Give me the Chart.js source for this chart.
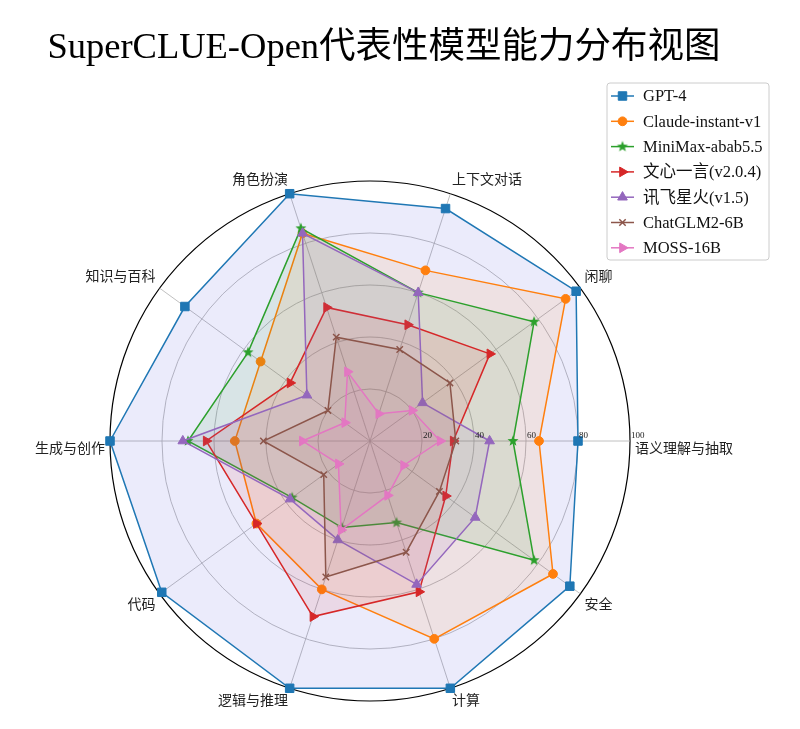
<!DOCTYPE html>
<html>
<head>
<meta charset="utf-8">
<script src="https://cdn.jsdelivr.net/npm/chart.js@4.4.1/dist/chart.umd.min.js"></script>
<style>
  html, body { margin: 0; padding: 0; background: #ffffff; }
  #wrap { width: 800px; height: 729px; position: relative; background: #ffffff; }
  canvas { display: block; }
</style>
</head>
<body>
<div id="wrap"><canvas id="c" width="800" height="729"></canvas></div>
<script>
// ---------- data ----------
const TITLE = 'SuperCLUE-Open代表性模型能力分布视图';
const categories = ['语义理解与抽取', '闲聊', '上下文对话', '角色扮演', '知识与百科',
                    '生成与创作', '代码', '逻辑与推理', '计算', '安全'];
const seriesNames = ['GPT-4', 'Claude-instant-v1', 'MiniMax-abab5.5', '文心一言(v2.0.4)',
                     '讯飞星火(v1.5)', 'ChatGLM2-6B', 'MOSS-16B'];
const gpt4    = [80, 98, 94, 100, 88, 100, 99, 100, 100, 95];
const claude  = [65, 93, 69, 84, 52, 52, 54, 60, 80, 87];
const minimax = [55, 78, 60, 86, 58, 70, 37, 35, 33, 78];
const wenxin  = [32, 57, 47, 54, 38, 63, 54, 71, 61, 36];
const xunfei  = [46, 25, 60, 84, 30, 72, 38, 40, 58, 50];
const chatglm = [33, 38, 37, 42, 20, 41, 22, 55, 45, 33];
const moss    = [27, 20, 11, 28, 12, 26, 15, 36, 22, 16];
const tickValues = [20, 40, 60, 80, 100];

// ---------- styles ----------
const SERIF = '"Liberation Serif", "Times New Roman", "Noto Sans CJK SC", serif';
const lineColors = ['#1f77b4', '#ff7f0e', '#2ca02c', '#d62728', '#9467bd', '#8c564b', '#e377c2'];
const fillColors = ['rgba(0,0,200,0.08)', 'rgba(255,127,14,0.10)', 'rgba(44,160,44,0.10)',
                    'rgba(214,39,40,0.10)', 'rgba(148,103,189,0.10)', 'rgba(140,86,75,0.10)',
                    'rgba(227,119,194,0.10)'];

function makeStar(color, r) {
  const s = Math.ceil(r * 2 + 2);
  const cv = document.createElement('canvas');
  cv.width = s; cv.height = s;
  const g = cv.getContext('2d');
  g.fillStyle = color;
  g.beginPath();
  for (let k = 0; k < 10; k++) {
    const rr = k % 2 === 0 ? r : r * 0.42;
    const a = -Math.PI / 2 + k * Math.PI / 5;
    const px = s / 2 + rr * Math.cos(a), py = s / 2 + rr * Math.sin(a);
    if (k === 0) g.moveTo(px, py); else g.lineTo(px, py);
  }
  g.closePath();
  g.fill();
  return cv;
}

const markerStyles = ['rect', 'circle', makeStar('#2ca02c', 5.8), 'triangle', 'triangle', 'crossRot', 'triangle'];
const markerRotations = [0, 0, 0, 90, 0, 0, 90];
const markerRadii = [6, 4.4, 5.5, 5.6, 5.6, 4.5, 5.6];
const markerBorderWidths = [1, 1, 1, 1, 1, 1.5, 1];

// Chart.js radar runs clockwise; the reference runs counter-clockwise from the east.
const n = categories.length;
const displayOrder = categories.map((_, i) => (n - i) % n);
const seriesValues = [gpt4, claude, minimax, wenxin, xunfei, chatglm, moss];
// labels on the horizontal axis sit a little below it (as in the reference)
const displayLabels = displayOrder.map((ci, i) =>
  ((i * 360 / n) % 180 === 0) ? ['', categories[ci]] : categories[ci]);

const datasets = seriesValues.map((vals, k) => ({
  label: seriesNames[k],
  data: displayOrder.map(i => vals[i]),
  borderColor: lineColors[k],
  backgroundColor: fillColors[k],
  borderWidth: 1.5,
  fill: true,
  pointStyle: markerStyles[k],
  pointRotation: markerRotations[k],
  pointRadius: markerRadii[k],
  pointHoverRadius: markerRadii[k],
  pointBackgroundColor: lineColors[k],
  pointBorderColor: lineColors[k],
  pointBorderWidth: markerBorderWidths[k],
  order: seriesValues.length - k
}));

// ---------- plugins ----------
const rTickLabels = {
  id: 'rTickLabels',
  afterDatasetsDraw(chart) {
    const s = chart.scales.r, c = chart.ctx;
    c.save();
    c.font = '9px ' + SERIF;
    c.fillStyle = '#222';
    c.textAlign = 'left';
    c.textBaseline = 'middle';
    tickValues.forEach(v => {
      const d = s.getDistanceFromCenterForValue(v);
      c.fillText(String(v), s.xCenter + d + 1, s.yCenter - 5);
    });
    c.restore();
  }
};

const cornerLegend = {
  id: 'cornerLegend',
  afterDraw(chart) {
    const c = chart.ctx;
    const bx = 607, by = 83, bw = 162, bh = 177, rad = 3;
    c.save();
    c.beginPath();
    c.moveTo(bx + rad, by);
    c.lineTo(bx + bw - rad, by); c.quadraticCurveTo(bx + bw, by, bx + bw, by + rad);
    c.lineTo(bx + bw, by + bh - rad); c.quadraticCurveTo(bx + bw, by + bh, bx + bw - rad, by + bh);
    c.lineTo(bx + rad, by + bh); c.quadraticCurveTo(bx, by + bh, bx, by + bh - rad);
    c.lineTo(bx, by + rad); c.quadraticCurveTo(bx, by, bx + rad, by);
    c.closePath();
    c.fillStyle = 'rgba(255,255,255,0.85)';
    c.fill();
    c.strokeStyle = '#cccccc';
    c.lineWidth = 1;
    c.stroke();
    chart.data.datasets.forEach((ds, i) => {
      const y = by + 13 + i * 25.3;
      c.strokeStyle = ds.borderColor;
      c.lineWidth = 1.5;
      c.beginPath();
      c.moveTo(bx + 4, y);
      c.lineTo(bx + 27, y);
      c.stroke();
      c.fillStyle = ds.pointBackgroundColor;
      c.strokeStyle = ds.pointBorderColor;
      c.lineWidth = ds.pointBorderWidth;
      Chart.helpers.drawPoint(c, {
        pointStyle: ds.pointStyle, rotation: ds.pointRotation,
        radius: ds.pointRadius, borderWidth: ds.pointBorderWidth
      }, bx + 15.5, y);
      c.fillStyle = '#111';
      c.font = '16.5px ' + SERIF;
      c.textAlign = 'left';
      c.textBaseline = 'middle';
      c.fillText(ds.label, bx + 36, y + 1);
    });
    c.restore();
  }
};

// ---------- chart ----------
Chart.defaults.font.family = SERIF;
new Chart(document.getElementById('c'), {
  type: 'radar',
  data: { labels: displayLabels, datasets },
  options: {
    responsive: false,
    animation: false,
    layout: { padding: { left: 21, right: 53, top: 0, bottom: 0 } },
    elements: { line: { tension: 0 } },
    plugins: {
      legend: { display: false },
      tooltip: { enabled: false },
      title: {
        display: true,
        text: TITLE,
        color: '#000',
        font: { family: SERIF, size: 36.5, weight: 'normal', lineHeight: 1.2 },
        padding: { top: 27, bottom: 82.2 }
      }
    },
    scales: {
      r: {
        min: 0,
        max: 100,
        startAngle: 90,
        ticks: { display: false, stepSize: 20 },
        grid: {
          circular: true,
          color: ctx => (ctx.tick && ctx.tick.value === 100) ? '#000000' : '#b0b0b0',
          lineWidth: ctx => (ctx.tick && ctx.tick.value === 100) ? 1.2 : 0.8
        },
        angleLines: { color: '#b0b0b0', lineWidth: 0.8 },
        pointLabels: {
          color: '#222',
          padding: 5,
          font: { family: SERIF, size: 14 }
        }
      }
    }
  },
  plugins: [rTickLabels, cornerLegend]
});
</script>
</body>
</html>
